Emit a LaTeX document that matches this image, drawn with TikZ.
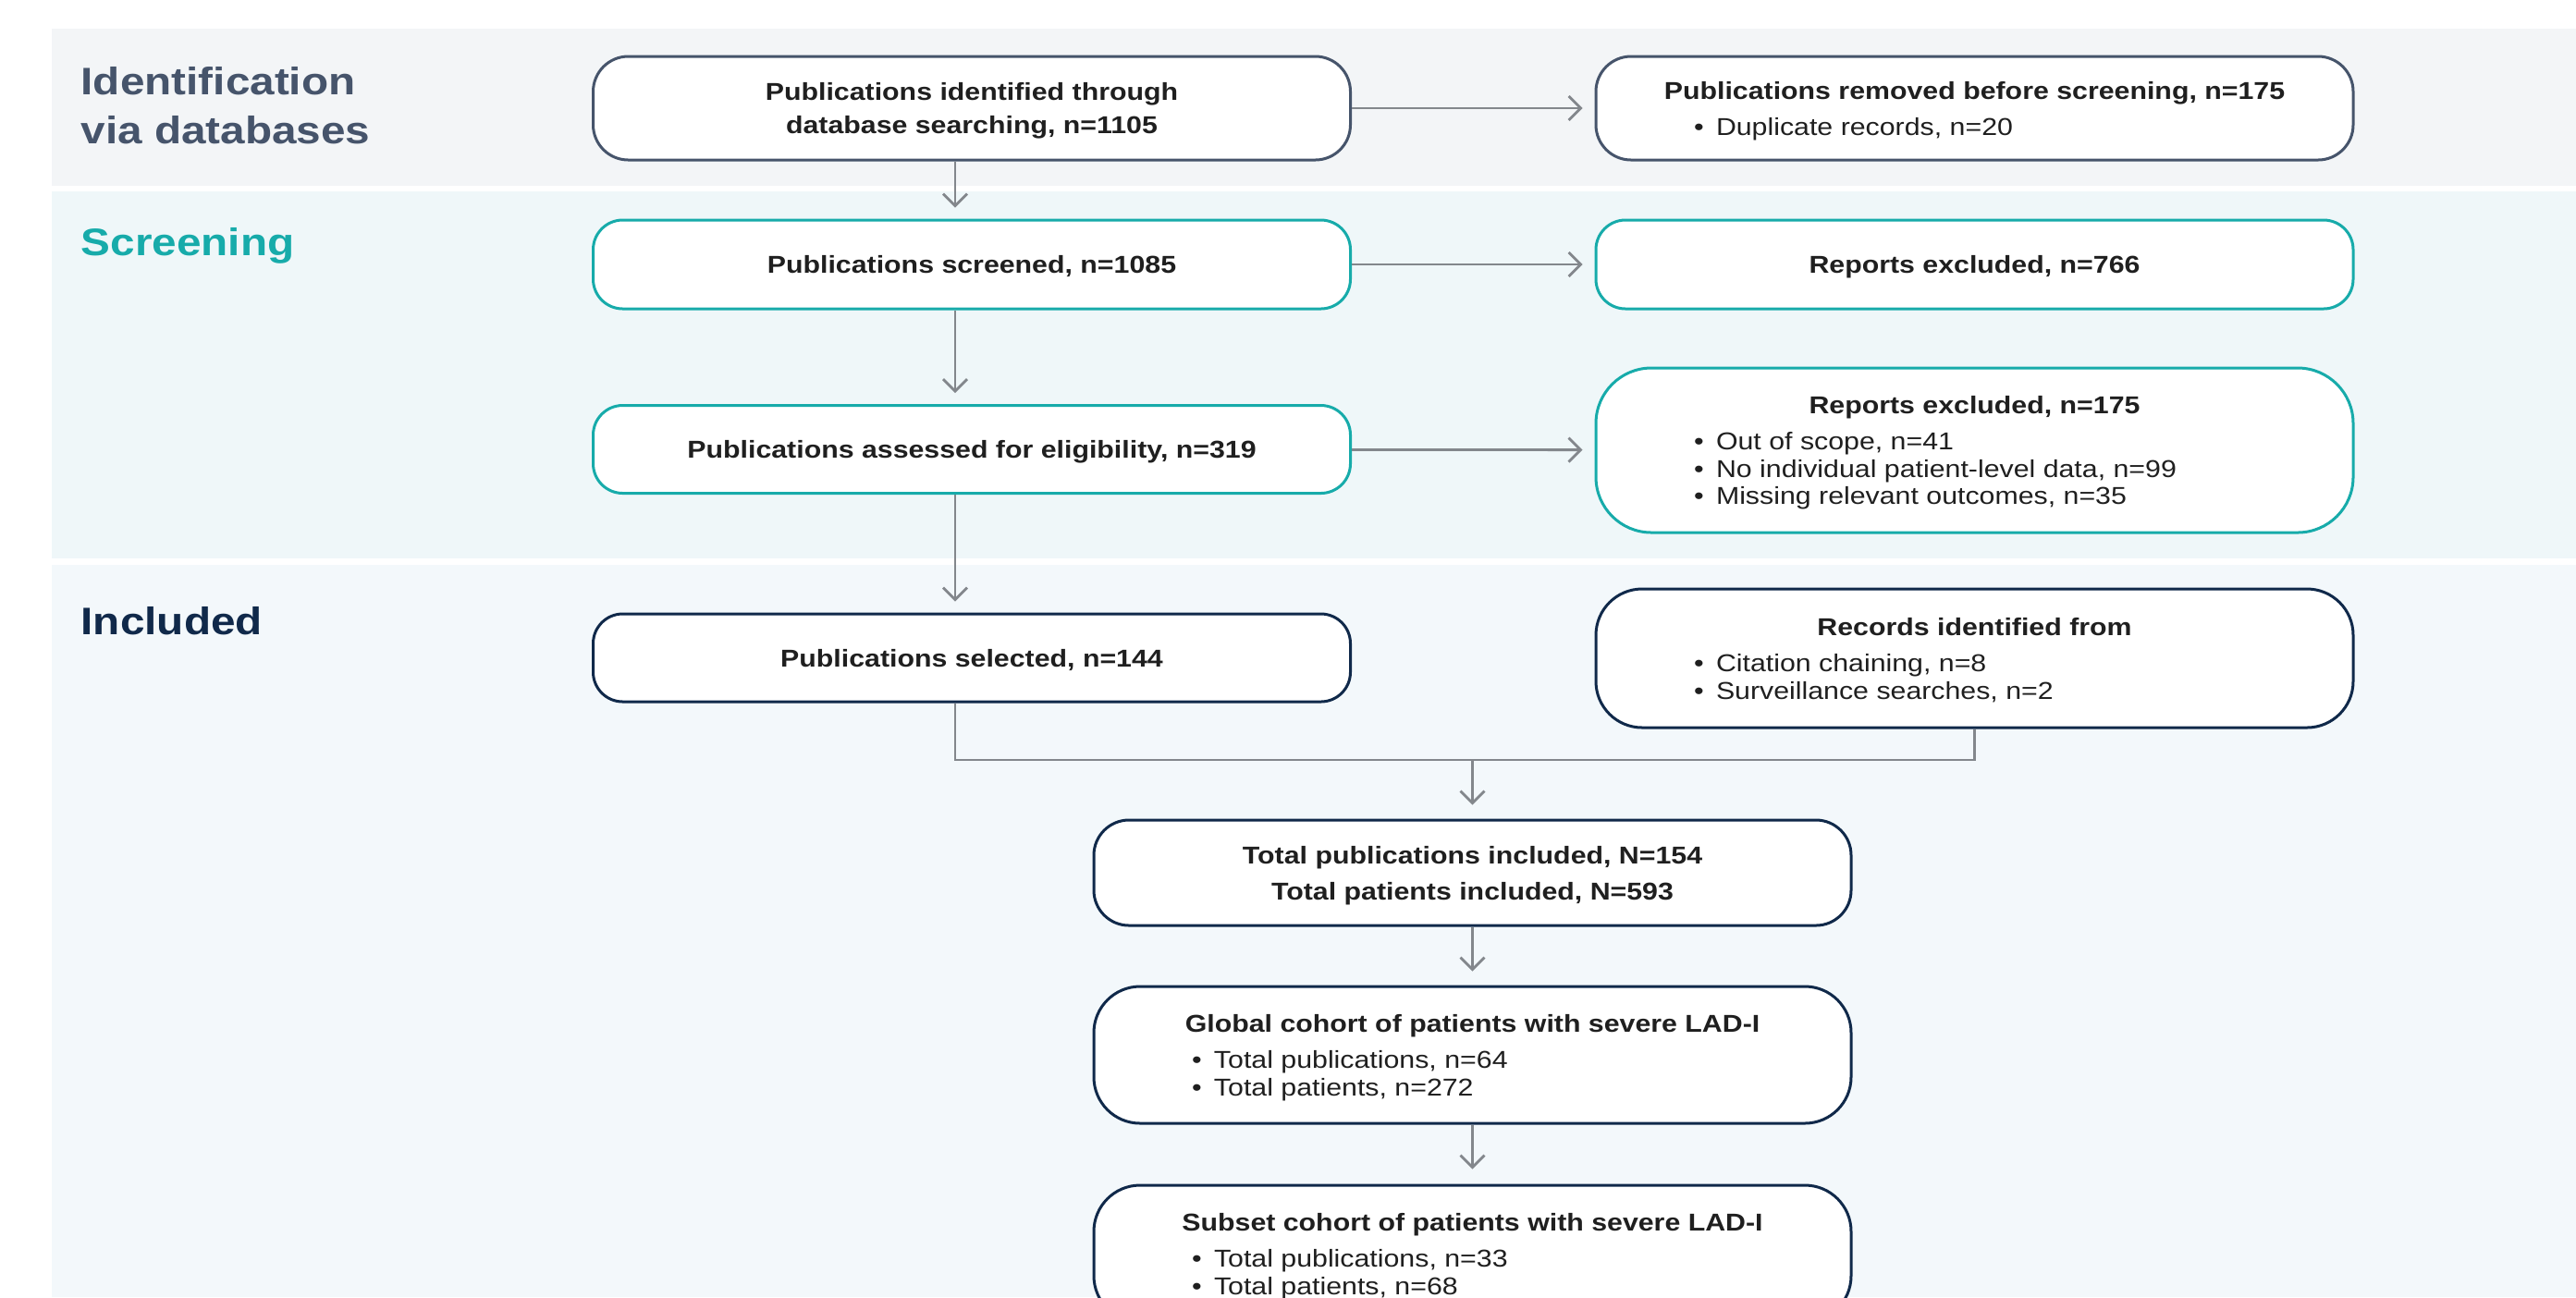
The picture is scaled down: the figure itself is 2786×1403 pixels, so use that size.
\documentclass[tikz,border=0pt]{standalone}
\usepackage{fontspec}
\setmainfont{Liberation Sans}[FakeStretch=1.15]
\usetikzlibrary{arrows.meta}
\definecolor{bandgray}{HTML}{F3F5F7}
\definecolor{bandteal}{HTML}{EFF7F9}
\definecolor{bandblue}{HTML}{F3F8FB}
\definecolor{slate}{HTML}{46546B}
\definecolor{scrteal}{HTML}{17ABAA}
\definecolor{navy}{HTML}{10294A}
\definecolor{arrgray}{HTML}{83878C}
\definecolor{ink}{HTML}{1F1F1F}
\newcommand{\itm}[1]{\makebox[60.7mm][l]{\makebox[2.4mm][l]{\textbullet}#1}}
\tikzset{
  pbox/.style={draw=#1, fill=white, line width=0.3mm, text=ink, align=center,
    minimum width=81.9mm, inner xsep=1mm, inner ysep=0pt, text depth=0pt,
    font=\fontsize{7.5}{8.5}\selectfont},
  phase/.style={anchor=north west, inner sep=0pt, align=left,
    font=\fontsize{11.8}{14.9}\selectfont\bfseries},
  flow/.style={draw=arrgray, line width=0.28mm}
}
\begin{document}
\begin{tikzpicture}[>={Straight Barb[length=1.3mm,width=2.6mm]}, x=0.1mm, y=-0.1mm]
    \useasboundingbox (0,0) rectangle (2786,1403);
    \clip (0,0) rectangle (2786,1403);
    \fill[bandgray] (56,31) rectangle (2786,201);
    \fill[bandteal] (56,207) rectangle (2786,604);
    \fill[bandblue] (56,611) rectangle (2786,1403);

    \node[phase, text=slate] (lident) at (87,72) {Identification\\via databases};
    \node[phase, text=scrteal] (lscreen) at (87,246) {Screening};
    \node[phase, text=navy] (lincl) at (87,656) {Included};

    \node[pbox=slate, minimum height=11.2mm, rounded corners=3.8mm] (ident) at (1051,117)
        {\textbf{Publications identified through}\\[1.5pt]\textbf{database searching, n=1105}};
    \node[pbox=slate, minimum height=11.2mm, rounded corners=3.8mm] (removed) at (2135.5,117)
        {\textbf{Publications removed before screening, n=175}\\[2.6pt]\itm{Duplicate records, n=20}};
    \node[pbox=scrteal, minimum height=9.6mm, rounded corners=3.2mm] (screened) at (1051,286)
        {\textbf{Publications screened, n=1085}};
    \node[pbox=scrteal, minimum height=9.6mm, rounded corners=3.2mm] (excl) at (2135.5,286)
        {\textbf{Reports excluded, n=766}};
    \node[pbox=scrteal, minimum height=9.5mm, rounded corners=3.2mm] (assessed) at (1051,486)
        {\textbf{Publications assessed for eligibility, n=319}};
    \node[pbox=scrteal, minimum height=17.8mm, rounded corners=6mm] (exclrep) at (2135.5,487)
        {\textbf{Reports excluded, n=175}\\[2.6pt]\itm{Out of scope, n=41}\\
         \itm{No individual patient-level data, n=99}\\\itm{Missing relevant outcomes, n=35}};
    \node[pbox=navy, minimum height=9.5mm, rounded corners=3.2mm] (selected) at (1051,711.5)
        {\textbf{Publications selected, n=144}};
    \node[pbox=navy, minimum height=15mm, rounded corners=5mm] (other) at (2135.5,712)
        {\textbf{Records identified from}\\[2.6pt]\itm{Citation chaining, n=8}\\
         \itm{Surveillance searches, n=2}};
    \node[pbox=navy, minimum height=11.4mm, rounded corners=3.8mm] (total) at (1592.5,944)
        {\textbf{Total publications included, N=154}\\[2.6pt]\textbf{Total patients included, N=593}};
    \node[pbox=navy, minimum height=14.8mm, rounded corners=5mm] (global) at (1592.5,1141)
        {\textbf{Global cohort of patients with severe LAD-I}\\[2.6pt]\itm{Total publications, n=64}\\
         \itm{Total patients, n=272}};
    \node[pbox=navy, minimum height=14.8mm, rounded corners=5mm] (subset) at (1592.5,1356)
        {\textbf{Subset cohort of patients with severe LAD-I}\\[2.6pt]\itm{Total publications, n=33}\\
         \itm{Total patients, n=68}};

    \draw[flow, ->, shorten >=1.3mm] (ident) -- (removed);
    \draw[flow, ->, shorten >=1.3mm] (screened) -- (excl);
    \draw[flow, ->, shorten >=1.3mm] (assessed) -- (exclrep);
    \draw[flow, ->, shorten >=1.2mm] ([xshift=-1.8mm]ident.south) -- ([xshift=-1.8mm]screened.north);
    \draw[flow, ->, shorten >=1.2mm] ([xshift=-1.8mm]screened.south) -- ([xshift=-1.8mm]assessed.north);
    \draw[flow, ->, shorten >=1.2mm] ([xshift=-1.8mm]assessed.south) -- ([xshift=-1.8mm]selected.north);
    \coordinate (join) at (1592.5,822);
    \draw[flow] ([xshift=-1.8mm]selected.south) |- (join) -| (other.south);
    \draw[flow, ->, shorten >=1.5mm] (join) -- (total);
    \draw[flow, ->, shorten >=1.5mm] (total) -- (global);
    \draw[flow, ->, shorten >=1.6mm] (global) -- (subset);
\end{tikzpicture}
\end{document}
